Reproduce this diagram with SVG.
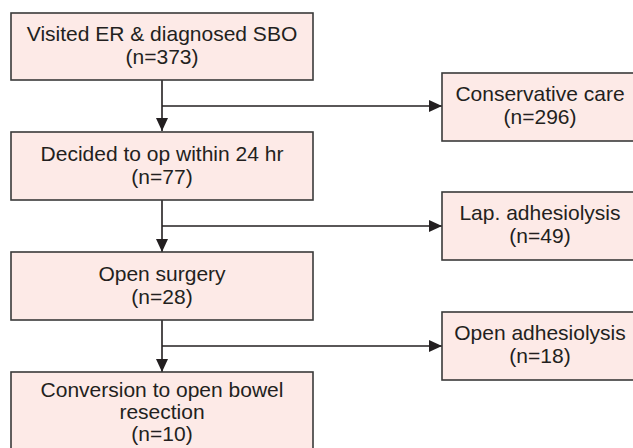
<svg xmlns="http://www.w3.org/2000/svg" width="633" height="448" viewBox="0 0 633 448">
<defs>
<style>
.box{fill:#fdeae7;stroke:#3a3a3a;stroke-width:1.6}
.t{font-family:"Liberation Sans",Arial,sans-serif;font-size:21px;fill:#231f20;text-anchor:middle}
.c{fill:none;stroke:#231f20;stroke-width:1.6}
</style>
<marker id="ah" markerUnits="userSpaceOnUse" markerWidth="14" markerHeight="14" viewBox="0 0 14 14" refX="13" refY="7" orient="auto">
<path d="M0,1 L13,7 L0,13 Z" fill="#231f20"/>
</marker>
</defs>
<g id="connectors">
<path class="c" d="M162,80 V131" marker-end="url(#ah)"/>
<path class="c" d="M162,106 H442" marker-end="url(#ah)"/>
<path class="c" d="M162,200 V252" marker-end="url(#ah)"/>
<path class="c" d="M162,226 H442" marker-end="url(#ah)"/>
<path class="c" d="M162,320 V372" marker-end="url(#ah)"/>
<path class="c" d="M162,346 H442" marker-end="url(#ah)"/>
</g>
<g id="n1"><rect class="box" x="11" y="13" width="302" height="67"/><text class="t" x="162" y="41">Visited ER &amp; diagnosed SBO</text><text class="t" x="162" y="64">(n=373)</text></g>
<g id="n2"><rect class="box" x="11" y="132" width="302" height="68"/><text class="t" x="162" y="161">Decided to op within 24 hr</text><text class="t" x="162" y="184">(n=77)</text></g>
<g id="n3"><rect class="box" x="11" y="252" width="302" height="68"/><text class="t" x="162" y="281">Open surgery</text><text class="t" x="162" y="304">(n=28)</text></g>
<g id="n4"><rect class="box" x="11" y="372" width="302" height="80"/><text class="t" x="162" y="397">Conversion to open bowel</text><text class="t" x="162" y="419">resection</text><text class="t" x="162" y="441">(n=10)</text></g>
<g id="r1"><rect class="box" x="442" y="73" width="200" height="68"/><text class="t" x="540" y="101">Conservative care</text><text class="t" x="540" y="124">(n=296)</text></g>
<g id="r2"><rect class="box" x="442" y="192" width="200" height="68"/><text class="t" x="540" y="220">Lap. adhesiolysis</text><text class="t" x="540" y="243">(n=49)</text></g>
<g id="r3"><rect class="box" x="442" y="312" width="200" height="68"/><text class="t" x="540" y="340">Open adhesiolysis</text><text class="t" x="540" y="363">(n=18)</text></g>
</svg>
